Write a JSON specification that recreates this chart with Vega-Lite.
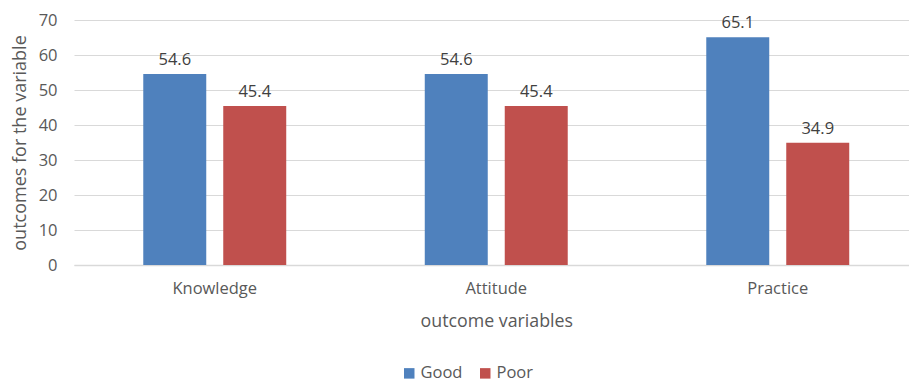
{
  "$schema": "https://vega.github.io/schema/vega-lite/v6.json",
  "autosize": "none",
  "width": 835,
  "height": 245,
  "padding": {"left": 74, "top": 20, "right": 0, "bottom": 119},
  "background": "white",
  "config": {
    "font": "Open Sans",
    "view": {"stroke": null},
    "axis": {"labelColor": "#595959", "titleColor": "#595959", "labelFont": "Open Sans", "titleFont": "Open Sans", "titleFontWeight": "normal"},
    "legend": {"labelFont": "Open Sans"}
  },
  "data": {
    "values": [
      {"variable": "Knowledge", "level": "Good", "value": 54.6},
      {"variable": "Knowledge", "level": "Poor", "value": 45.4},
      {"variable": "Attitude", "level": "Good", "value": 54.6},
      {"variable": "Attitude", "level": "Poor", "value": 45.4},
      {"variable": "Practice", "level": "Good", "value": 65.1},
      {"variable": "Practice", "level": "Poor", "value": 34.9}
    ]
  },
  "encoding": {
    "x": {
      "field": "variable", "type": "nominal", "sort": ["Knowledge", "Attitude", "Practice"],
      "scale": {"range": [0, 844.5], "paddingInner": 0, "paddingOuter": 0},
      "axis": {"title": "outcome variables", "labelAngle": 0, "labelFontSize": 16.5, "titleFontSize": 17.8, "labelPadding": 15, "titlePadding": 16, "ticks": false, "domainColor": "#d9d9d9", "domainWidth": 1.5}
    },
    "xOffset": {
      "field": "level", "type": "nominal",
      "scale": {"paddingInner": 0.2125, "paddingOuter": 0.866}
    },
    "y": {
      "field": "value", "type": "quantitative",
      "scale": {"domain": [0, 70], "nice": false},
      "axis": {"title": "outcomes for the variable", "values": [0, 10, 20, 30, 40, 50, 60, 70], "labelFontSize": 16.5, "titleFontSize": 18, "labelPadding": 17, "titlePadding": 9, "ticks": false, "domain": false, "gridColor": "#d9d9d9", "gridWidth": 1.2}
    }
  },
  "layer": [
    {
      "mark": {"type": "bar"},
      "encoding": {
        "color": {
          "field": "level", "type": "nominal",
          "scale": {"domain": ["Good", "Poor"], "range": ["#4f81bd", "#c0504d"]},
          "legend": {"title": null, "orient": "none", "direction": "horizontal", "legendX": 327, "legendY": 345, "symbolType": "square", "symbolSize": 110, "symbolStrokeWidth": 0, "labelFontSize": 16.5, "labelColor": "#595959", "columnPadding": 14, "labelOffset": 3}
        }
      }
    },
    {
      "mark": {"type": "text", "baseline": "bottom", "dy": -6, "fontSize": 16.5, "color": "#404040"},
      "encoding": {
        "text": {"field": "value", "type": "quantitative", "format": ".1f"}
      }
    }
  ]
}
